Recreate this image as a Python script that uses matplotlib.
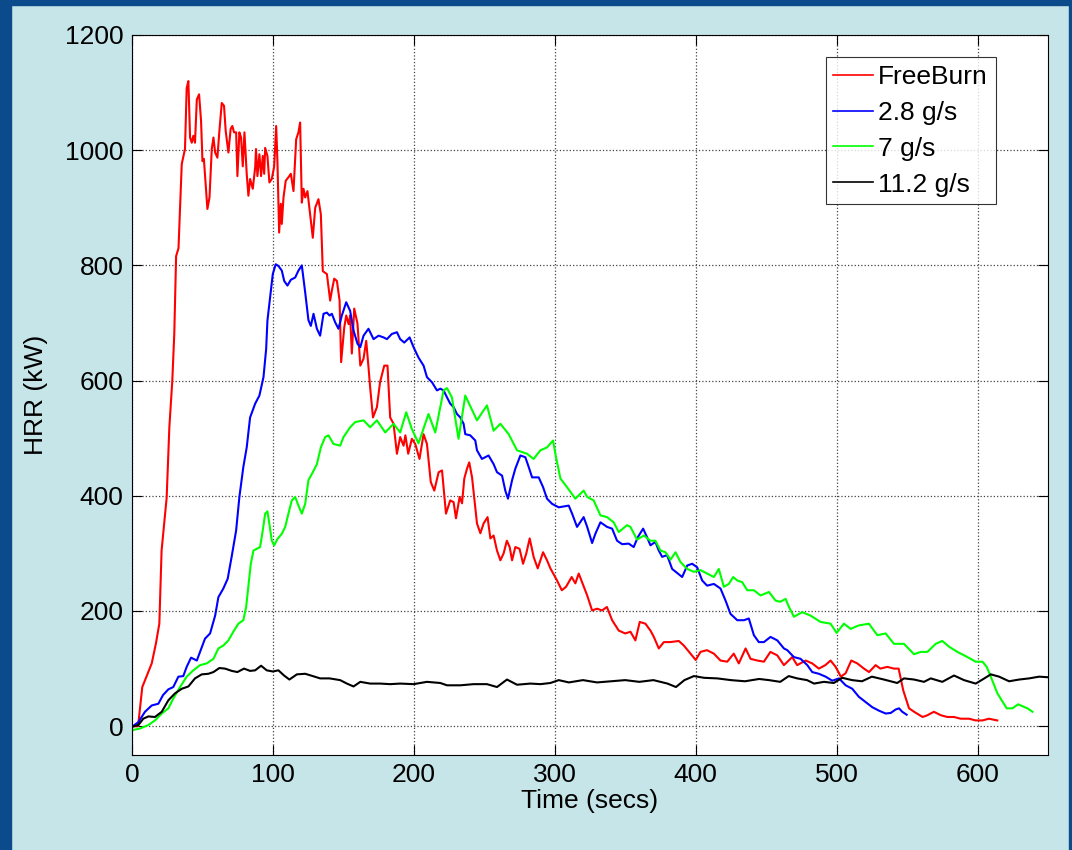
import matplotlib
matplotlib.use("Agg")
import matplotlib.pyplot as plt
from matplotlib.patches import Rectangle

# ---------------- data ----------------
free_t = [0, 4.3, 7.3, 14, 17, 19.4, 21, 23, 24.6, 26.5, 28.6, 30, 31.3, 33, 35.3, 37.6, 38.8, 40, 41.2, 42.4,
          43.5, 44.7, 46, 47.6, 49, 50, 51, 52, 53.5, 55, 56.6, 57.8, 59, 60.6, 62, 63.7, 65.3, 66.5, 68.4, 70,
          71.2, 72.4, 73.9, 74.8, 76.2, 77.4, 78.6, 79.8, 81.4, 82.6, 83.8, 85.7, 87.4, 88, 89, 90.4, 91.6, 92.8,
          93.8, 94.5, 96.1, 97.5, 99.2, 100.9, 102.3, 103.2, 104.4, 105.6, 106.3, 107.5, 109.1, 111, 112.7, 114.6,
          116.5, 118.1, 119.3, 120.5, 121.7, 122.9, 124.5, 126.4, 128.3, 130, 132.3, 134, 135.4, 138.3, 140.6,
          141.8, 143.5, 145.4, 147.3, 148.4, 150.6, 152, 153.7, 154.8, 156, 157.7, 160, 162, 164.3, 166.2, 167.8,
          169, 171, 173.8, 176, 179, 181.3, 183.2, 185.6, 188, 190.3, 192.7, 194, 196, 198.6, 201, 204, 206.9,
          209.3, 212, 214.5, 217.6, 220, 222.8, 225.8, 228.2, 229.9, 232.5, 234.2, 235.8, 237.7, 239.3, 241.3,
          242.9, 244.8, 247.2, 249.5, 252.3, 254.3, 256.6, 259, 261.4, 263.7, 266, 268, 269.7, 272, 275, 277.5,
          279.8, 282.2, 285, 287.9, 291.7, 294.5, 296.9, 301.6, 305, 308, 312, 314.6, 317, 319.4, 323, 326.5, 330,
          333.6, 337, 340.7, 345.4, 350, 353.7, 357.2, 360.3, 364.3, 367.9, 370.3, 373.8, 377.4, 382, 388, 391.6,
          396.3, 400, 403.4, 408, 412.9, 417.6, 422.4, 427, 430.6, 435.4, 438.9, 443.7, 448.4, 453, 457.9, 462.6,
          466, 468.5, 472, 478, 482.7, 487.4, 492, 495.7, 499.3, 503, 506.4, 510.4, 514.7, 519.4, 523, 527.7, 531,
          536, 540.7, 544, 547.3, 551.4, 555, 561, 564.4, 569, 574, 578.6, 583.3, 588, 594, 598.7, 603.5, 608, 614]
free_hrr = [0, 0, 68, 109, 144, 178, 305, 357, 397, 519, 600, 681, 816, 830, 976, 1002, 1108, 1120, 1022, 1013,
            1025, 1013, 1088, 1097, 1051, 981, 985, 950, 898, 918, 1002, 1022, 996, 987, 1033, 1082, 1077, 1033, 996, 1037,
            1042, 1031, 1031, 955, 1031, 1022, 972, 1031, 959, 921, 950, 933, 970, 1002, 955, 993, 955, 990,
            959, 1004, 990, 944, 950, 972, 1042, 981, 857, 907, 872, 918, 947, 953, 959, 929,
            1019, 1031, 1048, 909, 933, 918, 929, 889, 848, 900, 915, 889, 790, 785, 739,
            756, 777, 773, 739, 632, 692, 713, 698, 713, 647, 725, 699, 626, 638, 669, 624,
            588, 536, 554, 597, 626, 626, 536, 525, 473, 502, 487, 505, 473, 499, 490, 464, 507,
            490, 424, 409, 441, 444, 369, 392, 389, 361, 398, 387, 430, 447, 458, 432,
            395, 352, 335, 352, 363, 326, 331, 305, 288, 300, 322, 311, 288, 311, 308, 282,
            300, 326, 294, 274, 302, 288, 274, 253, 236, 242, 259, 248, 265, 250, 227, 201, 204,
            201, 207, 184, 166, 161, 164, 149, 181, 178, 166, 155, 135, 146, 146, 148, 140,
            126, 115, 129, 132, 126, 114, 112, 126, 109, 135, 117, 114, 112, 129, 123, 106,
            114, 120, 106, 114, 109, 100, 106, 114, 103, 86, 92, 114, 109, 100, 94, 106, 100,
            103, 100, 100, 62, 31, 25, 16, 19, 25, 19, 16, 16, 13, 13, 10, 10, 13, 10]

g28_t = [0, 4.5, 9.2, 14, 18.7, 22, 25.8, 29.3, 32.9, 36.4, 38.8, 41.9, 46, 48.3, 51.8, 55.4, 59, 61.3, 64.8, 67.9,
         70.7, 73.9, 76.2, 79, 81.4, 83.8, 87.4, 90.4, 93.3, 95.2, 96.1, 98, 99.9, 102, 103.9, 106.3, 108, 110.3,
         112.7, 115.8, 118.1, 120.5, 122.9, 125.2, 126.9, 128.8, 131.2, 133.5, 135.9, 138.3, 140.2, 141.8, 144.2,
         146.5, 148.9, 152, 154.8, 157.2, 160, 162, 164.3, 167.8, 171.4, 175, 178.5, 180.9, 184.4, 188, 190.3,
         193.2, 197, 199.8, 203.3, 206.9, 209.3, 212.9, 216.4, 218.8, 221.1, 223.5, 225.8, 228.2, 230.6, 233,
         235.3, 236.5, 240, 243.6, 244.8, 248.3, 250.7, 253, 256.6, 259, 262.6, 264.9, 266.8, 269.7, 272, 275.6,
         279.1, 281.5, 283.9, 288.6, 291.7, 294.5, 298.1, 302.8, 309.9, 312.3, 315.8, 320.5, 323, 326.5, 328.8,
         332.4, 337.1, 340.7, 344.2, 347.8, 352.5, 356, 358.9, 362.7, 365.5, 367.9, 371.4, 373.8, 376.2, 379.7,
         383.3, 386.8, 390.4, 394, 397.5, 401, 404.6, 408.1, 412.9, 417.6, 421.2, 424.7, 429.5, 434.2, 437.7,
         441.3, 444.8, 448.4, 453.1, 457.9, 462.6, 465, 469.7, 474.4, 479.2, 482.7, 487.4, 492.2, 496.9, 501.7,
         506.4, 511.1, 515.8, 520.6, 525.3, 530, 534.8, 538.4, 541.9, 544.3, 546.6, 549.7]
g28_hrr = [-1, 7, 25, 36, 39, 54, 64, 68, 86, 87, 103, 119, 114, 129, 152, 161, 192, 224, 239, 256,
           294, 340, 398, 450, 484, 536, 560, 574, 606, 655, 704, 745, 785, 802, 799, 791, 773, 765,
           775, 779, 791, 800, 753, 705, 695, 716, 690, 678, 716, 718, 713, 716, 701,
           690, 713, 736, 721, 687, 664, 658, 678, 690, 672, 678, 675, 672, 681, 684, 672,
           666, 675, 658, 640, 626, 606, 597, 583, 586, 583, 571, 560, 554, 542, 536,
           525, 507, 505, 496, 479, 464, 467, 470, 455, 441, 435, 409, 395, 427, 447, 470,
           467, 450, 432, 432, 415, 395, 386, 380, 383, 369, 346, 363, 346, 318, 334,
           354, 346, 343, 322, 316, 317, 311, 328, 343, 328, 314, 320, 305, 294, 297,
           273, 266, 259, 279, 282, 276, 253, 244, 247, 239, 218, 195, 184, 184, 187,
           158, 146, 146, 155, 149, 135, 132, 120, 117, 106, 94, 91, 86, 79, 83,
           71, 65, 51, 42, 33, 27, 22, 23, 29, 31, 25, 20]

g7_t = [0, 5.7, 11.6, 16.3, 21.1, 25.8, 29.3, 34.1, 38.8, 43.5, 48.3, 53, 57.8, 61.3, 64.8, 68.4, 71.9, 75.5, 79,
        81, 82.6, 84.3, 86.2, 88.5, 90.9, 92.8, 94.5, 96.1, 97.5, 99.2, 100.9, 103.2, 106.3, 108.7, 111, 113.4,
        115.8, 118.1, 120.5, 122.9, 125.2, 128.3, 131.2, 134, 137.1, 139.4, 143, 147.7, 150.1, 154.8, 158.4,
        164.3, 169, 173.8, 179.7, 185.6, 190.3, 194.6, 198.6, 203.3, 210.4, 215.2, 221.1, 223.5, 227, 231.7,
        236.5, 244.8, 251.9, 256.6, 261.4, 267.3, 273.2, 280.3, 285, 289.8, 294.5, 298.8, 300.4, 304, 308.7,
        314.6, 320.5, 323, 327.6, 332.4, 337.1, 341.8, 345.4, 351.3, 353.7, 358.4, 363.2, 367.9, 371.4, 375,
        378.6, 382.1, 385.7, 389.2, 394, 398.7, 403.4, 408.1, 412.9, 416.4, 420, 423.5, 426.6, 429.5, 433,
        436.6, 441.3, 446, 452, 456.7, 460, 463.8, 466.2, 469.7, 475.6, 481.5, 488.6, 495.7, 500, 505.2, 509.9,
        515.8, 522.9, 528.9, 534.8, 540.7, 547.8, 554.9, 559.7, 564.4, 570.3, 575, 579.8, 585.7, 592.8, 598.7,
        603.5, 606.5, 609.4, 614.1, 620.7, 624.8, 628.8, 635.4, 639]
g7_hrr = [-7, -4, 2, 10, 22, 31, 48, 68, 86, 97, 106, 109, 117, 135, 140, 149, 164, 178, 184,
          207, 244, 282, 305, 308, 311, 340, 369, 373, 351, 322, 314, 325, 334, 346, 369, 392,
          398, 383, 369, 386, 427, 441, 455, 484, 502, 505, 490, 487, 502, 519, 528,
          531, 519, 531, 510, 525, 510, 545, 516, 491, 542, 510, 583, 587, 571, 499,
          574, 531, 557, 513, 525, 507, 479, 473, 464, 479, 484, 496, 473, 430, 415,
          395, 409, 398, 392, 366, 363, 354, 337, 349, 346, 324, 331, 322, 322, 305,
          302, 289, 302, 285, 273, 268, 271, 265, 259, 273, 242, 247, 259, 253, 250,
          236, 236, 227, 233, 218, 216, 221, 207, 190, 198, 192, 181, 178, 162, 178, 169,
          175, 178, 158, 161, 143, 143, 125, 129, 129, 143, 148, 138, 129, 120, 112,
          112, 103, 86, 57, 31, 31, 38, 31, 25]

g112_t = [0, 4.5, 8, 11.6, 16.3, 21.1, 25.8, 30.5, 35.3, 40, 44.7, 49.5, 54.2, 57.8, 62, 66, 70.8, 74.8, 79.5,
          83.8, 87.4, 91.6, 95.6, 99.9, 103.9, 107.9, 111.7, 117, 122.9, 128.3, 133.5, 140.2, 147.7, 152.5, 157.2,
          162, 169, 176.1, 183.2, 190.3, 199.8, 209.3, 218.8, 223.5, 233, 242.4, 251.9, 259, 266.1, 273.2, 282.7,
          289.8, 296.9, 302.8, 310, 320, 330, 340, 350, 360, 370, 380, 386, 392, 398.7, 406, 415.3, 425, 435, 445,
          452, 460, 466, 472, 479, 484, 491, 498, 504, 511, 518, 525, 533.6, 543, 547.8, 555, 562, 566.8, 575,
          583.3, 590.4, 598.7, 603.5, 609.4, 615.3, 622.4, 629.5, 636.6, 643.7, 650]
g112_hrr = [-1, 2, 13, 17, 16, 25, 45, 57, 65, 69, 83, 90, 91, 94, 101, 100, 96, 94, 100,
            96, 97, 105, 97, 95, 97, 88, 81, 90, 91, 87, 83, 83, 80, 74, 69,
            77, 74, 74, 73, 74, 73, 77, 75, 71, 71, 73, 73, 68, 81, 72, 74,
            73, 75, 80, 76, 80, 76, 78, 80, 77, 80, 74, 68, 80, 87, 84, 83, 80, 78, 82,
            80, 77, 87, 83, 80, 74, 77, 75, 84, 80, 78, 86, 81, 75, 83, 81, 77, 83, 77,
            88, 80, 74, 81, 90, 86, 78, 81, 83, 86, 85]

series_labels = ["FreeBurn", "2.8 g/s", "7 g/s", "11.2 g/s"]
x_ticks = [0, 100, 200, 300, 400, 500, 600]
y_ticks = [0, 200, 400, 600, 800, 1000, 1200]

# ---------------- figure ----------------
plt.rcParams['font.family'] = ['Liberation Sans', 'DejaVu Sans']
W, H = 1072, 850
fig = plt.figure(figsize=(W / 100, H / 100), dpi=100)
fig.patch.set_facecolor('#c5e5e8')

border = '#0b4a8b'
fig.add_artist(Rectangle((0, 0), 11 / W, 1, transform=fig.transFigure, color=border, zorder=-1))
fig.add_artist(Rectangle((0, 1 - 5 / H), 1, 5 / H, transform=fig.transFigure, color=border, zorder=-1))
fig.add_artist(Rectangle((1 - 3 / W, 0), 3 / W, 1, transform=fig.transFigure, color=border, zorder=-1))

ax = fig.add_axes([132 / W, 1 - 755 / H, (1048 - 132) / W, (755 - 35) / H])
ax.set_facecolor('white')

lw = 1.5
ax.plot(free_t, free_hrr, color='#ff0000', lw=lw, label=series_labels[0])
ax.plot(g28_t, g28_hrr, color='#0000ff', lw=lw, label=series_labels[1])
ax.plot(g7_t, g7_hrr, color='#00ff00', lw=lw, label=series_labels[2])
ax.plot(g112_t, g112_hrr, color='#000000', lw=lw, label=series_labels[3])

ax.set_xlim(0, 650)
ax.set_ylim(-50, 1200)
ax.set_xticks(x_ticks)
ax.set_yticks(y_ticks)
ax.tick_params(direction='in', length=7, width=0.8, top=True, right=True,
               labelsize=19, pad=6)
ax.grid(True, linestyle=':', color='#444444', linewidth=0.9)
for s in ax.spines.values():
    s.set_linewidth(0.8)
    s.set_color('black')

ax.set_xlabel('Time (secs)', fontsize=19, labelpad=1)
ax.set_ylabel('HRR (kW)', fontsize=19, labelpad=12)

leg = ax.legend(loc='upper right', bbox_to_anchor=((996 - 132) / 916, (755 - 57) / 720),
                borderaxespad=0, fontsize=19, frameon=True, fancybox=False,
                handlelength=1.5, handletextpad=0.2, borderpad=0.3, labelspacing=0.45)
leg.get_frame().set_edgecolor('black')
leg.get_frame().set_linewidth(0.8)
for line in leg.get_lines():
    line.set_linewidth(1.2)

fig.savefig('out.png', dpi=100, facecolor=fig.get_facecolor())
